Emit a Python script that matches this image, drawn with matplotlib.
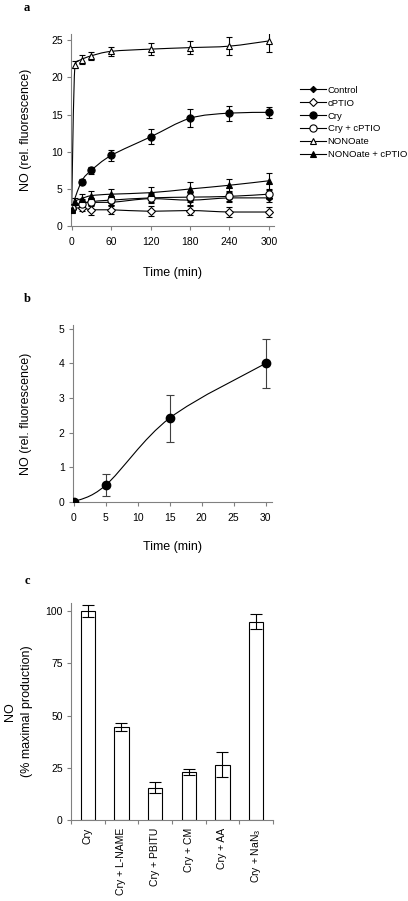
import numpy as np
import matplotlib
matplotlib.use("Agg")
from matplotlib import pyplot as plt
from matplotlib.path import Path
from matplotlib.patches import PathPatch
from matplotlib.lines import Line2D

plt.rcParams['font.family'] = ['Liberation Sans', 'DejaVu Sans']
plt.rcParams['mathtext.default'] = 'regular'

# panel a data
time_a = [0, 5, 15, 30, 60, 120, 180, 240, 300]
time_a8 = [0, 15, 30, 60, 120, 180, 240, 300]

control = [2.3, 3.2, 3.2, 3.2, 3.7, 3.5, 3.8, 3.8]
control_err = [0.3, 0.5, 0.5, 0.5, 0.6, 0.6, 0.6, 0.5]
cptio = [2.3, 2.5, 2.2, 2.2, 2.0, 2.1, 1.9, 1.9]
cptio_err = [0.3, 0.5, 0.7, 0.6, 0.7, 0.6, 0.7, 0.7]
cry = [2.5, 6.0, 7.5, 9.5, 12.0, 14.5, 15.2, 15.3]
cry_err = [0.3, 0.4, 0.5, 0.8, 1.0, 1.2, 1.0, 0.7]
cry_cptio = [2.5, 3.0, 3.3, 3.5, 3.8, 3.9, 4.0, 4.3]
cry_cptio_err = [0.3, 0.5, 0.5, 0.6, 0.6, 0.6, 0.6, 0.6]
nonoate = [2.3, 21.7, 22.4, 22.9, 23.5, 23.8, 24.0, 24.2, 24.9]
nonoate_err = [0.3, 0.5, 0.6, 0.5, 0.6, 0.8, 0.9, 1.2, 1.5]
nonoate_cptio = [2.2, 3.3, 3.7, 4.1, 4.3, 4.5, 5.0, 5.5, 6.1]
nonoate_cptio_err = [0.3, 0.5, 0.6, 0.6, 0.7, 0.7, 0.9, 0.8, 1.1]

# panel b data
time_b = [0, 5, 15, 30]
no_b = [0, 0.48, 2.42, 4.0]
no_b_err = [0, 0.32, 0.68, 0.7]

# panel c data
treatments = ['Cry', 'Cry + L-NAME', 'Cry + PBITU', 'Cry + CM', 'Cry + AA', 'Cry + NaN$_3$']
pct = [100, 44.5, 15.5, 23, 26.5, 95]
pct_err = [3, 2, 2.5, 1.5, 6, 3.5]

GREY = '#808080'


def smooth_path(x, y):
    # excel style smoothed line: cubic bezier through the points
    pts = np.column_stack([x, y]).astype(float)
    n = len(pts)
    verts = [pts[0]]
    codes = [Path.MOVETO]
    for i in range(n - 1):
        p0 = pts[i - 1] if i > 0 else pts[i]
        p1 = pts[i]
        p2 = pts[i + 1]
        p3 = pts[i + 2] if i + 2 < n else pts[i + 1]
        c1 = p1 + (p2 - p0) / 6.0
        c2 = p2 - (p3 - p1) / 6.0
        lo, hi = min(p1[1], p2[1]), max(p1[1], p2[1])
        # keep the curve from overshooting the points
        c1[1] = np.clip(c1[1], lo, hi)
        c2[1] = np.clip(c2[1], lo, hi)
        verts += [c1, c2, p2]
        codes += [Path.CURVE4] * 3
    return Path(verts, codes)


def style_axes(ax):
    for s in ['top', 'right']:
        ax.spines[s].set_visible(False)
    for s in ['left', 'bottom']:
        ax.spines[s].set_color(GREY)
        ax.spines[s].set_linewidth(0.8)
    ax.tick_params(direction='out', length=3, width=0.8, color=GREY, labelsize=7.5, pad=3)
    ax.tick_params(axis='x', pad=5)


fig = plt.figure(figsize=(4.08, 9.01), dpi=100)

# ---- panel a
ax = fig.add_axes([0.174, 0.749, 0.498, 0.213])
series = [
    ('Control', time_a8, control, control_err, 'D', 'black', 3.2),
    ('cPTIO', time_a8, cptio, cptio_err, 'D', 'white', 4.2),
    ('Cry', time_a8, cry, cry_err, 'o', 'black', 5.2),
    ('Cry + cPTIO', time_a8, cry_cptio, cry_cptio_err, 'o', 'white', 5.2),
    ('NONOate', time_a, nonoate, nonoate_err, '^', 'white', 5.0),
    ('NONOate + cPTIO', time_a, nonoate_cptio, nonoate_cptio_err, '^', 'black', 5.0),
]
handles = []
for name, t, v, e, m, fc, ms in series:
    ax.add_patch(PathPatch(smooth_path(t, v), facecolor='none', edgecolor='black', lw=0.8, zorder=2))
    ax.errorbar(t, v, yerr=e, fmt='none', ecolor='black', elinewidth=0.8, capsize=2.5, capthick=0.8, zorder=3)
    ax.plot(t, v, linestyle='none', marker=m, markersize=ms, markerfacecolor=fc,
            markeredgecolor='black', markeredgewidth=0.8, zorder=4)
    handles.append(Line2D([], [], color='black', lw=0.8, marker=m, markersize=ms,
                          markerfacecolor=fc, markeredgecolor='black', markeredgewidth=0.8))
ax.set_xlim(-1, 308)
ax.set_ylim(0, 25.8)
ax.set_xticks([0, 60, 120, 180, 240, 300])
ax.set_yticks([0, 5, 10, 15, 20, 25])
style_axes(ax)
ax.set_xlabel('Time (min)', fontsize=9, labelpad=14)
ax.set_ylabel('NO (rel. fluorescence)', fontsize=9, labelpad=14)
fig.legend(handles, [s[0] for s in series], loc='upper left', bbox_to_anchor=(0.735, 0.905),
           frameon=False, fontsize=6.8, handlelength=2.8, handletextpad=0.15, labelspacing=0.42,
           borderaxespad=0, borderpad=0)

# ---- panel b
ax = fig.add_axes([0.179, 0.443, 0.488, 0.196])
ax.add_patch(PathPatch(smooth_path(time_b, no_b), facecolor='none', edgecolor='black', lw=0.8, zorder=2))
ax.errorbar(time_b, no_b, yerr=no_b_err, fmt='none', ecolor='#404040', elinewidth=0.8,
            capsize=3, capthick=0.8, zorder=3)
ax.plot(time_b, no_b, linestyle='none', marker='o', markersize=6, color='black', zorder=4)
ax.set_xlim(-0.1, 31)
ax.set_ylim(0, 5.1)
ax.set_xticks([0, 5, 10, 15, 20, 25, 30])
ax.set_yticks([0, 1, 2, 3, 4, 5])
style_axes(ax)
ax.set_xlabel('Time (min)', fontsize=9, labelpad=13)
ax.set_ylabel('NO (rel. fluorescence)', fontsize=9, labelpad=19)

# ---- panel c
ax = fig.add_axes([0.174, 0.090, 0.495, 0.241])
xpos = np.arange(len(treatments))
ax.bar(xpos, pct, width=0.42, color='white', edgecolor='black', linewidth=0.8, zorder=2)
ax.errorbar(xpos, pct, yerr=pct_err, fmt='none', ecolor='black', elinewidth=0.8,
            capsize=4, capthick=0.8, zorder=3)
ax.set_xlim(-0.5, len(treatments) - 0.5)
ax.set_ylim(0, 104)
ax.set_yticks([0, 25, 50, 75, 100])
ax.set_xticks(xpos)
ax.set_xticklabels(treatments, rotation=90, fontsize=7)
ax.set_xticks(np.arange(len(treatments) + 1) - 0.5, minor=True)
style_axes(ax)
ax.tick_params(axis='x', which='major', length=0, pad=6)
ax.tick_params(axis='x', which='minor', direction='out', length=3, width=0.8, color=GREY)
ax.set_ylabel('NO\n(% maximal production)', fontsize=9, labelpad=9, linespacing=1.5)

# panel letters
for lab, yy in [('a', 0.998), ('b', 0.675), ('c', 0.362)]:
    fig.text(0.066, yy, lab, fontsize=9, fontweight='bold', family='Liberation Serif',
             ha='center', va='top')

fig.savefig('out.png', dpi=100)
